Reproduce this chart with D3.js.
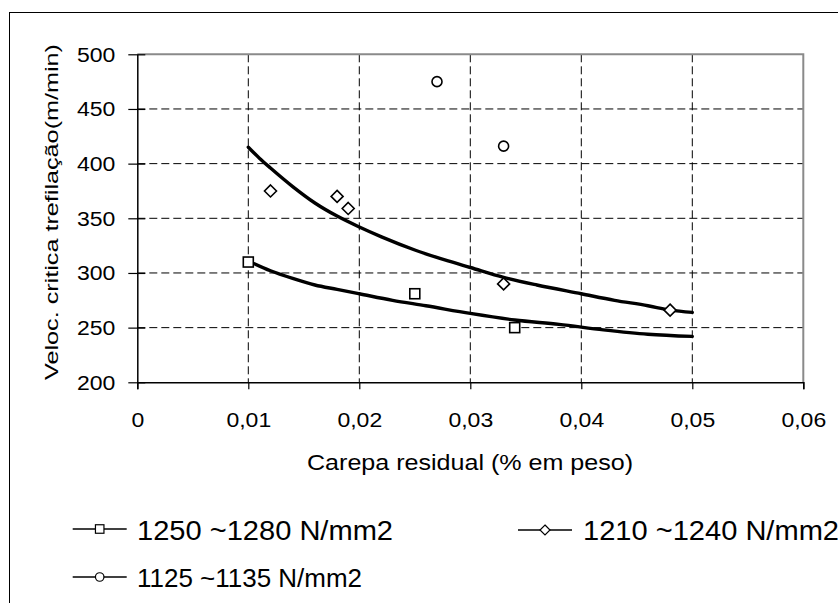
<!DOCTYPE html>
<html>
<head>
<meta charset="utf-8">
<script src="https://cdn.jsdelivr.net/npm/d3@7"></script>
<style>
  body { margin: 0; background: #fff; }
  svg { display: block; font-family: "Liberation Sans", Arial, sans-serif; }
</style>
</head>
<body>
<div id="chart"></div>
<script>
// measured points
var squareX = [0.010, 0.025, 0.034];
var squareY = [310, 281, 250];
var diamondX = [0.012, 0.018, 0.019, 0.033, 0.048];
var diamondY = [375, 370, 359, 290, 266];
var circleX = [0.027, 0.033];
var circleY = [475, 416];

// trend curves
var upperX = [0.010, 0.011, 0.012, 0.014, 0.016, 0.018, 0.020, 0.022, 0.025, 0.028, 0.030, 0.033, 0.036, 0.040, 0.043, 0.046, 0.048, 0.050];
var upperY = [415, 405, 396, 379, 364, 352, 342, 333, 321, 311, 305, 296, 289, 281, 275, 270, 266, 264];
var lowerX = [0.010, 0.012, 0.014, 0.016, 0.018, 0.020, 0.023, 0.026, 0.030, 0.034, 0.038, 0.042, 0.046, 0.050];
var lowerY = [311, 302, 295, 289, 285, 281, 275, 270, 263, 257, 253, 248, 244, 242];

var xTicks = [0, 0.01, 0.02, 0.03, 0.04, 0.05, 0.06];
var yTicks = [200, 250, 300, 350, 400, 450, 500];

var legendNames = ["1250 ~1280 N/mm2", "1210 ~1240 N/mm2", "1125 ~1135 N/mm2"];

var W = 838, H = 603;
var plotLeft = 137.3, plotRight = 803.3, plotTop = 54.3, plotBottom = 382.3;

var svg = d3.select("#chart").append("svg")
  .attr("width", W)
  .attr("height", H);

svg.append("rect").attr("width", W).attr("height", H).attr("fill", "#fff");

// outer frame (cut off at right and bottom)
svg.append("rect")
  .attr("x", 9.5).attr("y", 12.5)
  .attr("width", W + 20).attr("height", H + 20)
  .attr("fill", "none").attr("stroke", "#000").attr("stroke-width", 1);

var x = d3.scaleLinear().domain([0, 0.06]).range([plotLeft, plotRight]);
var y = d3.scaleLinear().domain([200, 500]).range([plotBottom, plotTop]);

var fmt = function(d) { return d === 0 ? "0" : d3.format(".2f")(d).replace(".", ","); };

// grid
var grid = svg.append("g");
grid.selectAll("line.v")
  .data(xTicks.slice(1, -1))
  .enter().append("line")
    .attr("x1", function(d) { return x(d); })
    .attr("x2", function(d) { return x(d); })
    .attr("y1", plotTop).attr("y2", plotBottom)
    .attr("stroke", "#000").attr("stroke-width", 1)
    .attr("stroke-dasharray", "8,4");
grid.selectAll("line.h")
  .data(yTicks.slice(1, -1))
  .enter().append("line")
    .attr("x1", plotLeft).attr("x2", plotRight)
    .attr("y1", function(d) { return y(d); })
    .attr("y2", function(d) { return y(d); })
    .attr("stroke", "#000").attr("stroke-width", 1)
    .attr("stroke-dasharray", "8,4");

// plot border, gray on top and right
svg.append("path")
  .attr("d", "M" + plotLeft + "," + plotTop + "H" + plotRight + "V" + plotBottom)
  .attr("fill", "none").attr("stroke", "#8a8a8a").attr("stroke-width", 2);

// axes
var xAxis = svg.append("g")
  .attr("transform", "translate(0," + plotBottom + ")")
  .call(d3.axisBottom(x).tickValues(xTicks).tickSize(7).tickFormat(fmt));
xAxis.select(".domain").attr("stroke", "#000").attr("stroke-width", 1.5);
xAxis.selectAll(".tick line").attr("stroke", "#000").attr("stroke-width", 1.2);
xAxis.selectAll(".tick text")
  .attr("y", 45).attr("dy", null)
  .attr("font-size", 20).attr("font-family", "Liberation Sans, Arial").attr("fill", "#000");

var yAxis = svg.append("g")
  .attr("transform", "translate(" + plotLeft + ",0)")
  .call(d3.axisLeft(y).tickValues(yTicks).tickSizeInner(9).tickSizeOuter(0));
yAxis.select(".domain").attr("stroke", "#000").attr("stroke-width", 1.5);
yAxis.selectAll(".tick line").attr("x2", 8).attr("x1", -9)
  .attr("stroke", "#000").attr("stroke-width", 1.2);
yAxis.selectAll(".tick text")
  .attr("x", -22).attr("dy", 7)
  .attr("font-size", 20).attr("font-family", "Liberation Sans, Arial").attr("fill", "#000");

// tick text in the picture is a bit wider than Arial
svg.selectAll(".tick text").each(function() {
  var t = d3.select(this);
  t.attr("textLength", this.getComputedTextLength() * 1.15)
   .attr("lengthAdjust", "spacingAndGlyphs");
});

// axis titles
svg.append("text")
  .attr("transform", "translate(58,212) rotate(-90)")
  .attr("text-anchor", "middle")
  .attr("font-size", 19)
  .attr("textLength", 336).attr("lengthAdjust", "spacingAndGlyphs")
  .text("Veloc. critica trefilação(m/min)");

svg.append("text")
  .attr("x", 470).attr("y", 470)
  .attr("text-anchor", "middle")
  .attr("font-size", 22)
  .attr("textLength", 326).attr("lengthAdjust", "spacingAndGlyphs")
  .text("Carepa residual (% em peso)");

// trend curves
var line = d3.line()
  .x(function(d) { return x(d[0]); })
  .y(function(d) { return y(d[1]); })
  .curve(d3.curveMonotoneX);

[[upperX, upperY], [lowerX, lowerY]].forEach(function(s) {
  svg.append("path")
    .datum(d3.zip(s[0], s[1]))
    .attr("d", line)
    .attr("fill", "none").attr("stroke", "#000")
    .attr("stroke-width", 3.4).attr("stroke-linejoin", "round").attr("stroke-linecap", "round");
});

// markers
function marker(g, kind, size) {
  if (kind === "square") {
    g.append("rect").attr("x", -size / 2).attr("y", -size / 2)
      .attr("width", size).attr("height", size);
  } else if (kind === "diamond") {
    var h = size / 2;
    g.append("path").attr("d", "M0," + (-h) + "L" + h + ",0L0," + h + "L" + (-h) + ",0Z");
  } else {
    g.append("circle").attr("r", size / 2);
  }
  g.attr("fill", "#fff").attr("stroke", "#000");
}

var series = [
  {kind: "square", xs: squareX, ys: squareY, size: 10},
  {kind: "diamond", xs: diamondX, ys: diamondY, size: 12},
  {kind: "circle", xs: circleX, ys: circleY, size: 10}
];

series.forEach(function(s) {
  svg.append("g").selectAll("g")
    .data(d3.zip(s.xs, s.ys))
    .enter().append("g")
      .attr("transform", function(d) { return "translate(" + x(d[0]) + "," + y(d[1]) + ")"; })
      .each(function() { marker(d3.select(this), s.kind, s.size); })
      .attr("stroke-width", 1.6);
});

// legend
var legendItems = [
  {lx: 72.7, ly: 529, tx: 137, ty: 540, fs: 28, tl: 256},
  {lx: 518, ly: 530, tx: 583, ty: 540, fs: 28, tl: 256},
  {lx: 72.7, ly: 577, tx: 137, ty: 587, fs: 25, tl: 225}
];

legendItems.forEach(function(it, i) {
  var g = svg.append("g");
  g.append("line")
    .attr("x1", it.lx).attr("x2", it.lx + 54)
    .attr("y1", it.ly).attr("y2", it.ly)
    .attr("stroke", "#000").attr("stroke-width", 1.3);
  var m = g.append("g").attr("transform", "translate(" + (it.lx + 27) + "," + it.ly + ")");
  marker(m, series[i].kind, series[i].kind === "diamond" ? 10 : 8.5);
  m.attr("stroke-width", 1.2);
  g.append("text")
    .attr("x", it.tx).attr("y", it.ty)
    .attr("font-size", it.fs)
    .attr("textLength", it.tl).attr("lengthAdjust", "spacingAndGlyphs")
    .text(legendNames[i]);
});
</script>
</body>
</html>
